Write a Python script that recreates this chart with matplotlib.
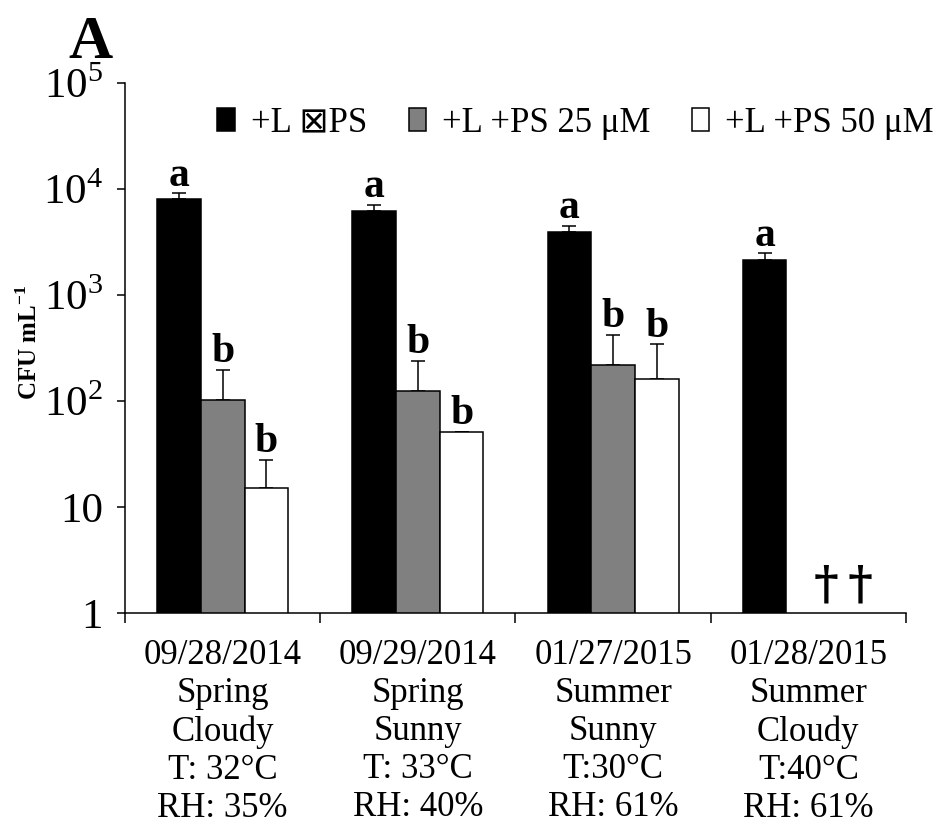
import numpy as np
import matplotlib
matplotlib.use("Agg")
import matplotlib.pyplot as plt

plt.rcParams['font.family'] = ['Liberation Serif', 'DejaVu Sans']
plt.rcParams['mathtext.fontset'] = 'custom'
plt.rcParams['mathtext.rm'] = 'Liberation Serif'
plt.rcParams['mathtext.bf'] = 'Liberation Serif:bold'

# data
days = ["09/28/2014\nSpring\nCloudy\nT: 32°C\nRH: 35%",
        "09/29/2014\nSpring\nSunny\nT: 33°C\nRH: 40%",
        "01/27/2015\nSummer\nSunny\nT:30°C\nRH: 61%",
        "01/28/2015\nSummer\nCloudy\nT:40°C\nRH: 61%"]
ps0 = [8000, 6150, 3900, 2140]
ps0_err = [1100, 900, 600, 330]
ps25 = [102, 125, 220, np.nan]
ps25_err = [94, 115, 200, np.nan]
ps50 = [15.2, 51, 161, np.nan]
ps50_err = [12.6, 0, 182, np.nan]
letters0 = ["a", "a", "a", "a"]
letters25 = ["b", "b", "b", ""]
letters50 = ["b", "b", "b", ""]
series_names = ["+L \u22a0PS", "+L +PS 25 \u03bcM", "+L +PS 50 \u03bcM"]
ytick_vals = [1, 10, 100, 1000, 10000, 100000]
ytick_labels = ["1", "10", "10$^2$", "10$^3$", "10$^4$", "10$^5$"]

fig = plt.figure(figsize=(9.33, 8.32), dpi=100)
ax = fig.add_axes([0.134, 0.2632, 0.837, 0.637])

x = np.arange(len(days))
w = 0.224
groups = [(ps0, ps0_err, 'black', letters0),
          (ps25, ps25_err, '#808080', letters25),
          (ps50, ps50_err, 'white', letters50)]
handles = []
for i, (vals, errs, col, lets) in enumerate(groups):
    xs = x + (i - 1) * w
    b = ax.bar(xs, vals, w, color=col, edgecolor='black', linewidth=1.1, zorder=2)
    handles.append(b)
    errs_arr = np.array(errs, dtype=float)
    ax.errorbar(xs, vals, yerr=[np.zeros_like(errs_arr), errs_arr], fmt='none',
                ecolor='black', elinewidth=1.1, capsize=4.7, capthick=1.1, zorder=1)
    for xi, v, e, t in zip(xs, vals, errs, lets):
        if t and not np.isnan(v):
            ax.annotate(t, (xi, v + e), xytext=(0, 5.5), textcoords='offset points',
                        ha='center', va='baseline', fontsize=30, fontweight='bold')

# no data for the last day
ax.text(3.18, 1.38, "\u2020\u2009\u2020", ha='center', va='baseline', fontsize=34,
        family=['DejaVu Serif'], fontweight='bold')

ax.set_yscale('log')
ax.set_ylim(1, 1e5)
ax.set_xlim(-0.5, 3.5)
ax.set_yticks(ytick_vals)
ax.set_yticklabels(ytick_labels)
ax.yaxis.set_minor_locator(matplotlib.ticker.NullLocator())
ax.tick_params(axis='y', direction='out', length=6, width=1.1, labelsize=31, pad=10)

ax.set_xticks([-0.5, 0.5, 1.5, 2.5, 3.5])
ax.set_xticklabels([])
ax.set_xticks(x, days, minor=True)
ax.tick_params(axis='x', which='major', direction='out', length=7, width=1.1)
ax.tick_params(axis='x', which='minor', length=0, labelsize=25, pad=19)
for lab in ax.get_xticklabels(minor=True):
    lab.set_linespacing(1.2)

for s in ['top', 'right']:
    ax.spines[s].set_visible(False)
for s in ['left', 'bottom']:
    ax.spines[s].set_linewidth(1.1)

ax.set_ylabel(r'CFU mL$^{\mathbf{-1}}$', fontsize=18, fontweight='bold')
ax.yaxis.set_label_coords(-0.106, 0.51)

fig.legend(handles, series_names, loc='center', bbox_to_anchor=(0.617, 0.852),
           ncol=3, frameon=False, fontsize=25, handlelength=0.5, handleheight=0.65,
           handletextpad=0.46, columnspacing=1.2, borderpad=0)

fig.text(0.073, 0.93, "A", fontsize=44, fontweight='bold')

fig.savefig("out.png", dpi=100)
